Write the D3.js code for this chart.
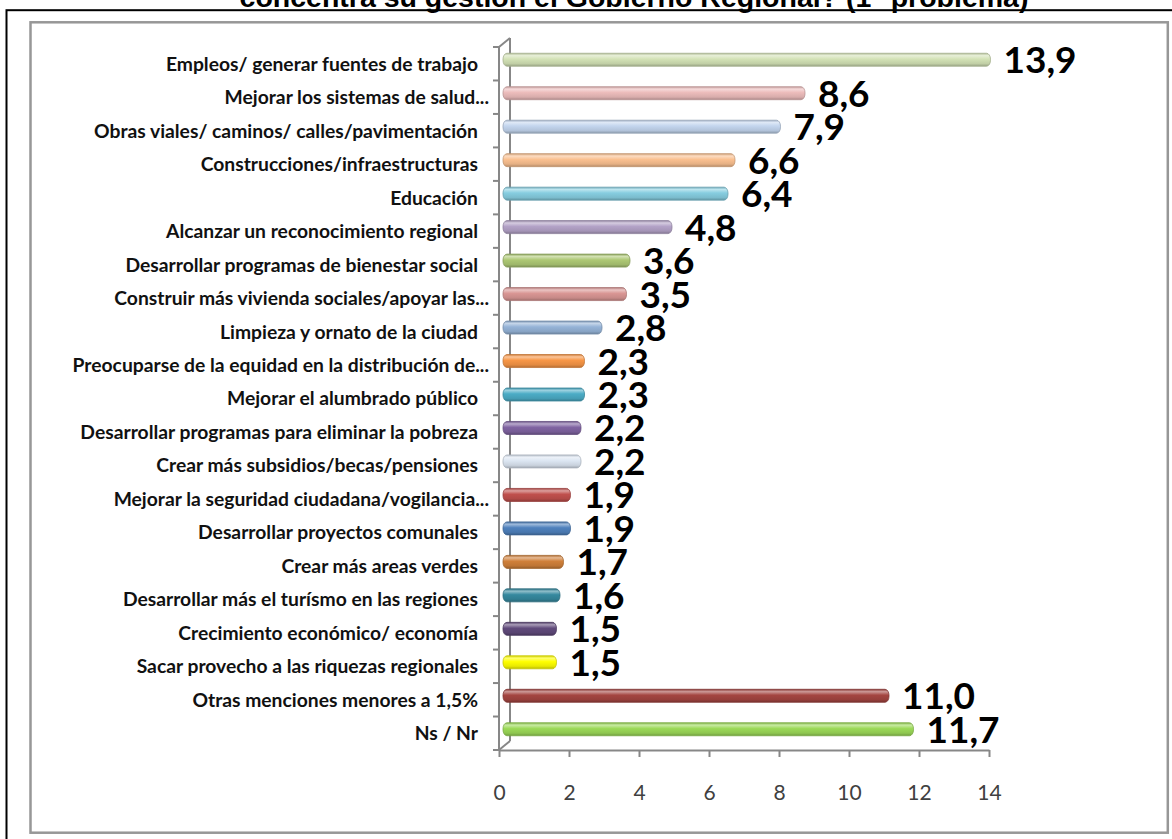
<!DOCTYPE html>
<html>
<head>
<meta charset="utf-8">
<script src="https://cdn.jsdelivr.net/npm/d3@7"></script>
<style>
  body { margin: 0; background: #fff; }
</style>
</head>
<body>
<svg id="chart" width="1172" height="839"></svg>
<script>
const titleText = "concentra su gestión el Gobierno Regional? (1° problema)";

const categories = [
    "Empleos/ generar fuentes de trabajo",
    "Mejorar los sistemas de salud...",
    "Obras viales/ caminos/ calles/pavimentación",
    "Construcciones/infraestructuras",
    "Educación",
    "Alcanzar un reconocimiento regional",
    "Desarrollar programas de bienestar social",
    "Construir más vivienda sociales/apoyar las...",
    "Limpieza y ornato de la ciudad",
    "Preocuparse de la equidad en la distribución de...",
    "Mejorar el alumbrado público",
    "Desarrollar programas para eliminar la pobreza",
    "Crear más subsidios/becas/pensiones",
    "Mejorar la seguridad ciudadana/vogilancia...",
    "Desarrollar proyectos comunales",
    "Crear más areas verdes",
    "Desarrollar más el turísmo en las regiones",
    "Crecimiento económico/ economía",
    "Sacar provecho a las riquezas regionales",
    "Otras menciones menores a 1,5%",
    "Ns / Nr"
];

const values = [13.9, 8.6, 7.9, 6.6, 6.4, 4.8, 3.6, 3.5, 2.8, 2.3, 2.3, 2.2, 2.2, 1.9, 1.9, 1.7, 1.6, 1.5, 1.5, 11.0, 11.7];

const barColors = [
    "#d3e2b6", "#ecbcbb", "#c3d5ee", "#fac090", "#86cde0", "#b3a2c7", "#adc874",
    "#d99694", "#95b3d7", "#f79646", "#4bacc6", "#8064a2", "#dce6f2", "#c0504d",
    "#4f81bd", "#d0803a", "#36899f", "#604a7b", "#ffff00", "#a44541", "#9bd957"
];

const xTicks = [0, 2, 4, 6, 8, 10, 12, 14];

const svg = d3.select("#chart");
const fmt = v => d3.format(".1f")(v).replace(".", ",");

// frames
svg.append("rect")
    .attr("x", 6.5).attr("y", 10.2)
    .attr("width", 1300).attr("height", 1000)
    .attr("fill", "none").attr("stroke", "#000").attr("stroke-width", 2);

svg.append("rect")
    .attr("x", 30.5).attr("y", 22.3)
    .attr("width", 1137.3).attr("height", 810.4)
    .attr("fill", "none").attr("stroke", "#979797").attr("stroke-width", 2.5);

// title (only the lower part is visible)
svg.append("text")
    .attr("x", 634).attr("y", 7)
    .attr("text-anchor", "middle")
    .style("font", "bold 28.5px 'Liberation Sans', Arial, sans-serif")
    .text(titleText);

const x = d3.scaleLinear().domain([0, 14]).range([499, 989]);
const y = d3.scaleBand().domain(categories).range([47, 750]);
const bw = y.bandwidth();
const depth = { dx: 11, dy: -9 };
const barH = 13;

// gradients for the cylinder look
const defs = svg.append("defs");
barColors.forEach(function (c, i) {
    const base = d3.color(c);
    const g = defs.append("linearGradient")
        .attr("id", "grad" + i)
        .attr("x1", 0).attr("y1", 0).attr("x2", 0).attr("y2", 1);
    const light = d3.interpolateRgb(c, "#fff")(0.45);
    g.append("stop").attr("offset", "0%").attr("stop-color", base.darker(0.5));
    g.append("stop").attr("offset", "18%").attr("stop-color", light);
    g.append("stop").attr("offset", "45%").attr("stop-color", c);
    g.append("stop").attr("offset", "80%").attr("stop-color", base.darker(0.25));
    g.append("stop").attr("offset", "100%").attr("stop-color", base.darker(0.9));
});

const axisColor = "#878787";

// back wall line + 3D corners
const x0 = x(0);
const gAxis = svg.append("g")
    .attr("stroke", axisColor).attr("stroke-width", 2).attr("fill", "none");
gAxis.append("line")
    .attr("x1", x0 + depth.dx).attr("x2", x0 + depth.dx)
    .attr("y1", y.range()[0] + depth.dy).attr("y2", y.range()[1] + depth.dy);
gAxis.append("line")
    .attr("x1", x0).attr("x2", x0 + depth.dx)
    .attr("y1", y.range()[0]).attr("y2", y.range()[0] + depth.dy);
gAxis.append("line")
    .attr("x1", x0).attr("x2", x0 + depth.dx)
    .attr("y1", y.range()[1]).attr("y2", y.range()[1] + depth.dy);
gAxis.append("line")
    .attr("x1", x0).attr("x2", x0)
    .attr("y1", y.range()[0]).attr("y2", y.range()[1]);

const bounds = categories.map(d => y(d)).concat([y.range()[1]]);
gAxis.selectAll(".ytick")
    .data(bounds)
    .enter().append("line")
    .attr("class", "ytick")
    .attr("x1", x0 - 6).attr("x2", x0)
    .attr("y1", d => d).attr("y2", d => d);

// x axis
const xAxis = svg.append("g")
    .attr("transform", "translate(0," + y.range()[1] + ")")
    .call(d3.axisBottom(x).tickValues(xTicks).tickSize(7).tickSizeOuter(0).tickPadding(28));
xAxis.selectAll("path, line").attr("stroke", axisColor).attr("stroke-width", 2);
xAxis.selectAll("text")
    .attr("fill", "#404040")
    .style("font", "21px Lato, 'Open Sans', sans-serif");

// category labels
svg.append("g").selectAll("text")
    .data(categories)
    .enter().append("text")
    .attr("x", d => d.endsWith("...") ? 489 : 478)
    .attr("y", d => y(d) + bw / 2 + 2)
    .attr("text-anchor", "end")
    .attr("dominant-baseline", "middle")
    .attr("fill", "#111")
    .style("font", "bold 19.3px Lato, sans-serif")
    .text(d => d);

// bars
const bars = svg.append("g");
bars.selectAll("rect")
    .data(categories)
    .enter().append("rect")
    .attr("x", x0 + 4)
    .attr("y", d => y(d) + bw / 2 - 4 - barH / 2)
    .attr("width", (d, i) => x(values[i]) - x0 + 1)
    .attr("height", barH)
    .attr("rx", 4).attr("ry", 6)
    .attr("fill", (d, i) => "url(#grad" + i + ")")
    .attr("stroke", (d, i) => d3.color(barColors[i]).darker(0.7))
    .attr("stroke-width", 0.8);

// value labels
svg.append("g").selectAll("text")
    .data(categories)
    .enter().append("text")
    .attr("x", (d, i) => x(values[i]) + 5 + 13)
    .attr("y", d => y(d) + bw / 2)
    .attr("dominant-baseline", "middle")
    .attr("fill", "#000")
    .style("font", "bold 37px Lato, sans-serif")
    .text((d, i) => fmt(values[i]));
</script>
</body>
</html>
